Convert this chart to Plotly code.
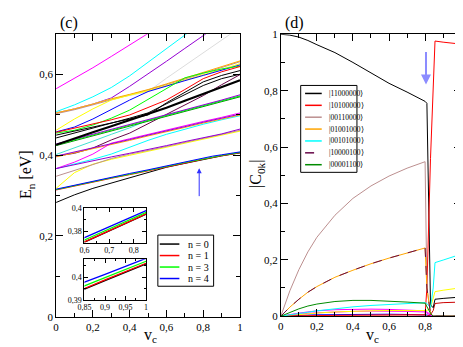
import plotly.graph_objects as go

# ---------------- data: left panel (energy levels E_n vs v_c) ----------------
V = [0, 0.1, 0.2, 0.3, 0.4, 0.5, 0.6, 0.7, 0.8, 0.9, 1.0]
V_N = [0, 0.1, 0.2, 0.3, 0.4, 0.5, 0.6, 0.7, 0.8, 0.85, 0.9, 0.95, 1.0]

E_n0 = [0.283, 0.302, 0.318, 0.331, 0.343, 0.356, 0.3703, 0.3800, 0.3898, 0.3947, 0.3985, 0.4022, 0.4059]
E_n1 = [0.314, 0.324, 0.334, 0.343, 0.352, 0.361, 0.3706, 0.3803, 0.3902, 0.3950, 0.3988, 0.4025, 0.4062]
E_n3 = [0.315, 0.325, 0.335, 0.344, 0.353, 0.362, 0.3722, 0.3820, 0.3918, 0.3962, 0.3998, 0.4034, 0.4071]
E_n4 = [0.316, 0.326, 0.336, 0.346, 0.355, 0.364, 0.3742, 0.3838, 0.3934, 0.3978, 0.4013, 0.4048, 0.4084]

E_magenta_top = [0.565, 0.590, 0.617, 0.645, 0.673, 0.702, 0.732, 0.760, 0.790, 0.820, 0.850]
E_cyan_top = [0.508, 0.525, 0.545, 0.568, 0.597, 0.630, 0.663, 0.698, 0.733, 0.770, 0.800]
E_violet_top = [0.505, 0.515, 0.527, 0.542, 0.571, 0.601, 0.633, 0.665, 0.697, 0.730, 0.760]
E_grey = [0.505, 0.515, 0.527, 0.540, 0.548, 0.558, 0.591, 0.623, 0.654, 0.686, 0.717]
E_brown_b = [0.503, 0.513, 0.525, 0.538, 0.550, 0.562, 0.575, 0.589, 0.603, 0.617, 0.632]
E_orange_b = [0.505, 0.515, 0.527, 0.540, 0.551, 0.563, 0.577, 0.591, 0.605, 0.620, 0.634]
E_yellow_up = [0.462, 0.490, 0.515, 0.537, 0.549, 0.560, 0.573, 0.586, 0.600, 0.613, 0.627]
E_blue_up = [0.458, 0.470, 0.490, 0.514, 0.537, 0.558, 0.572, 0.585, 0.598, 0.611, 0.624]
E_green_up = [0.455, 0.462, 0.475, 0.492, 0.512, 0.538, 0.566, 0.592, 0.604, 0.614, 0.621]
E_red_up = [0.457, 0.467, 0.477, 0.488, 0.500, 0.518, 0.537, 0.563, 0.590, 0.607, 0.620]
E_black_thick = [0.426, 0.442, 0.457, 0.472, 0.487, 0.502, 0.518, 0.535, 0.552, 0.569, 0.586]
E_black_thin1 = [0.443, 0.455, 0.467, 0.480, 0.492, 0.505, 0.527, 0.551, 0.573, 0.590, 0.601]
E_black_thin2 = [0.450, 0.460, 0.470, 0.480, 0.490, 0.500, 0.530, 0.556, 0.582, 0.598, 0.610]
E_maroon = [0.398, 0.405, 0.418, 0.438, 0.455, 0.478, 0.500, 0.523, 0.548, 0.575, 0.600]
E_turq = [0.402, 0.418, 0.435, 0.452, 0.468, 0.487, 0.499, 0.511, 0.523, 0.535, 0.547]
E_green_b3 = [0.426, 0.438, 0.450, 0.462, 0.474, 0.487, 0.499, 0.511, 0.523, 0.535, 0.547]
E_violet_b3 = [0.428, 0.440, 0.452, 0.464, 0.476, 0.489, 0.501, 0.513, 0.525, 0.537, 0.550]
E_green4_b3 = [0.424, 0.436, 0.448, 0.460, 0.472, 0.485, 0.497, 0.509, 0.521, 0.533, 0.545]
E_violet_b4 = [0.398, 0.408, 0.418, 0.428, 0.439, 0.450, 0.460, 0.471, 0.482, 0.492, 0.502]
E_orange_b4 = [0.396, 0.406, 0.416, 0.426, 0.437, 0.448, 0.458, 0.469, 0.480, 0.490, 0.500]
E_magenta_b4 = [0.367, 0.383, 0.403, 0.430, 0.441, 0.452, 0.462, 0.473, 0.484, 0.494, 0.505]
E_cyan_b4 = [0.367, 0.378, 0.390, 0.403, 0.420, 0.437, 0.452, 0.465, 0.477, 0.488, 0.498]
E_violet_b5 = [0.367, 0.377, 0.387, 0.396, 0.405, 0.414, 0.424, 0.434, 0.444, 0.453, 0.465]
E_yellow_low = [0.318, 0.357, 0.378, 0.390, 0.400, 0.410, 0.420, 0.430, 0.440, 0.450, 0.460]
E_brown_b5 = [0.348, 0.362, 0.377, 0.392, 0.403, 0.412, 0.422, 0.432, 0.442, 0.452, 0.462]

# ---------------- data: right panel |C_0k| vs v_c ----------------
XR = [0, 0.05, 0.1, 0.15, 0.2, 0.3, 0.4, 0.5, 0.6, 0.7, 0.8, 0.81, 0.83, 0.845, 0.855, 0.9, 1.0]
C_11000000 = [1.0, 0.997, 0.99, 0.978, 0.963, 0.935, 0.9, 0.862, 0.826, 0.795, 0.762, 0.755, 0.04, 0.03, 0.06, 0.063, 0.068]
C_10100000 = [0, 0, 0.001, 0.001, 0.002, 0.003, 0.004, 0.005, 0.005, 0.005, 0.005, 0.1, 0.56, 0.8, 0.976, 0.972, 0.965]
C_00110000 = [0, 0.09, 0.165, 0.228, 0.28, 0.358, 0.418, 0.462, 0.497, 0.525, 0.548, 0.1, 0.01, 0, 0, 0, 0]
C_01001000 = [0, 0.032, 0.06, 0.085, 0.105, 0.138, 0.163, 0.186, 0.206, 0.225, 0.242, 0.1, 0.01, 0, 0, 0, 0]
C_00101000 = [0, 0.004, 0.009, 0.014, 0.019, 0.027, 0.033, 0.038, 0.042, 0.045, 0.048, 0.045, 0.03, 0.1, 0.19, 0.199, 0.22]
C_10000100 = [0, 0.032, 0.06, 0.085, 0.105, 0.138, 0.163, 0.186, 0.206, 0.225, 0.242, 0.1, 0.01, 0, 0, 0, 0]
C_00001100 = [0, 0.013, 0.026, 0.036, 0.043, 0.052, 0.056, 0.056, 0.054, 0.05, 0.046, 0.035, 0.01, 0, 0, 0, 0]
C_magenta_a = [0, 0.006, 0.011, 0.015, 0.019, 0.023, 0.025, 0.025, 0.024, 0.022, 0.019, 0.015, 0.005, 0, 0, 0, 0]
C_magenta_b = [0, 0.004, 0.007, 0.01, 0.012, 0.015, 0.017, 0.018, 0.018, 0.017, 0.015, 0.01, 0.003, 0, 0, 0, 0]
C_yellow = [0, 0.003, 0.006, 0.009, 0.011, 0.015, 0.018, 0.019, 0.02, 0.02, 0.02, 0.02, 0.03, 0.06, 0.087, 0.092, 0.101]
C_darkred = [0, 0, 0, 0, 0, 0, 0, 0, 0, 0, 0, 0, 0.005, 0.02, 0.045, 0.048, 0.05]
C_blue = [0, 0.002, 0.003, 0.004, 0.005, 0.006, 0.007, 0.007, 0.007, 0.006, 0.005, 0.004, 0.002, 0, 0, 0, 0]

LEFT_LEGEND = ["n = 0", "n = 1", "n = 3", "n = 4"]
RIGHT_LEGEND = ["|11000000⟩", "|10100000⟩", "|00110000⟩", "|01001000⟩",
                "|00101000⟩", "|10000100⟩", "|00001100⟩"]

# grace palette
BLACK = "#000000"; RED = "#ff0000"; GREEN = "#00ff00"; BLUE = "#0000ff"
YELLOW = "#ffff00"; BROWN = "#bc8f8f"; GREY = "#dcdcdc"; VIOLET = "#9400d3"
CYAN = "#00ffff"; MAGENTA = "#ff00ff"; ORANGE = "#ffa500"; MAROON = "#670748"
TURQ = "#40e0d0"; GREEN4 = "#008b00"

fig = go.Figure()


def add(xs, ys, color, width=1.0, xa="x", ya="y", dash=None):
    fig.add_trace(go.Scatter(x=xs, y=ys, mode="lines", xaxis=xa, yaxis=ya,
                             line=dict(color=color, width=width, dash=dash),
                             hoverinfo="skip", showlegend=False))


# left panel
left_lines = [
    (E_magenta_top, MAGENTA), (E_cyan_top, CYAN), (E_violet_top, VIOLET), (E_grey, GREY),
    (E_brown_b, BROWN), (E_orange_b, ORANGE), (E_yellow_up, YELLOW), (E_blue_up, BLUE),
    (E_green_up, GREEN), (E_black_thin1, BLACK), (E_black_thin2, BLACK), (E_red_up, RED),
    (E_maroon, MAROON), (E_turq, TURQ), (E_green4_b3, GREEN4), (E_green_b3, GREEN),
    (E_violet_b3, VIOLET), (E_cyan_b4, CYAN), (E_orange_b4, ORANGE), (E_magenta_b4, MAGENTA),
    (E_violet_b4, VIOLET), (E_yellow_low, YELLOW), (E_brown_b5, BROWN), (E_violet_b5, VIOLET),
]
for ys, c in left_lines:
    add(V, ys, c)
add(V, E_black_thick, BLACK, width=2.2)
for ys, c in [(E_n0, BLACK), (E_n1, RED), (E_n3, GREEN), (E_n4, BLUE)]:
    add(V_N, ys, c)
# insets
for xa, ya in [("x3", "y3"), ("x4", "y4")]:
    for ys, c in [(E_n0, BLACK), (E_n1, RED), (E_n3, GREEN), (E_n4, BLUE)]:
        add(V_N, ys, c, width=1.3, xa=xa, ya=ya)

# right panel
for ys, c in [(C_blue, BLUE), (C_magenta_b, MAGENTA), (C_magenta_a, MAGENTA), (C_yellow, YELLOW),
              (C_darkred, "#cc0000")]:
    add(XR, ys, c, xa="x2", ya="y2")
right_series = [(C_11000000, BLACK, None), (C_10100000, RED, None), (C_00110000, BROWN, None),
                (C_01001000, ORANGE, None), (C_00101000, CYAN, None), (C_10000100, MAROON, "dash"),
                (C_00001100, GREEN4, None)]
for ys, c, d in right_series:
    add(XR, ys, c, xa="x2", ya="y2", dash=d)

W, H = 463, 347


def PX(p):
    return p / W


def PY(p):
    return 1 - p / H


FONT = "Liberation Serif"


def axis(dom, rng, dtick, minor_dtick, anchor, size=11, ticklen=7, mlen=4, tickvals=None, ticktext=None):
    d = dict(domain=dom, range=rng, anchor=anchor, showline=True, linecolor="black", linewidth=1,
             mirror="allticks", ticks="inside", ticklen=ticklen, tickwidth=1, tickcolor="black",
             showgrid=False, zeroline=False, tickfont=dict(size=size, family=FONT, color="black"),
             minor=dict(ticks="inside", dtick=minor_dtick, ticklen=mlen, tickcolor="black", showgrid=False))
    if tickvals is not None:
        d.update(tickmode="array", tickvals=tickvals, ticktext=ticktext)
    else:
        d.update(tick0=0, dtick=dtick)
    return d


fig.update_layout(
    width=W, height=H, margin=dict(l=0, r=0, t=0, b=0),
    paper_bgcolor="white", plot_bgcolor="rgba(0,0,0,0)", showlegend=False,
    separators=", ", font=dict(family=FONT, color="black"),
    xaxis=axis([PX(42), PX(230)], [0, 1], 0.2, 0.1, "y"),
    yaxis=axis([PY(313.5), PY(21)], [0, 0.7], 0.2, 0.1, "x"),
    xaxis2=axis([PX(271.7), PX(456)], [0, 1], 0.2, 0.1, "y2"),
    yaxis2=axis([PY(313), PY(21)], [0, 1], 0.2, 0.1, "x2"),
    xaxis3=axis([PX(71), PX(134)], [0.6, 0.85], None, 0.05, "y3", size=8, ticklen=4, mlen=2,
                tickvals=[0.6, 0.7, 0.8], ticktext=["0,6", "0,7", "0,8"]),
    yaxis3=axis([PY(236.7), PY(201)], [0.37, 0.40], None, 0.01, "x3", size=8, ticklen=4, mlen=2,
                tickvals=[0.38, 0.40], ticktext=["0,38", "0,4"]),
    xaxis4=axis([PX(71), PX(134)], [0.85, 1.0], None, 0.025, "y4", size=8, ticklen=4, mlen=2,
                tickvals=[0.85, 0.9, 0.95, 1.0], ticktext=["0,85", "0,9", "0,95", "1"]),
    yaxis4=axis([PY(296), PY(254)], [0.39, 0.408], None, 0.005, "x4", size=8, ticklen=4, mlen=2,
                tickvals=[0.39, 0.40], ticktext=["0,39", "0,4"]),
)

shapes = []
annotations = []


def text(x, y, s, size, angle=0, xanchor="center"):
    annotations.append(dict(x=x, y=y, xref="paper", yref="paper", text=s, showarrow=False,
                            font=dict(size=size, family=FONT, color="black"), textangle=angle,
                            xanchor=xanchor, yanchor="middle"))


text(PX(55), PY(9), "(c)", 16)
text(PX(286), PY(9), "(d)", 16)
text(PX(12), PY(166), "E<sub>n</sub> [eV]", 16, angle=-90)
text(PX(138), PY(333), "v<sub>c</sub>", 16)
text(PX(247), PY(166), "|C<sub>0k</sub>|", 16, angle=-90)
text(PX(365), PY(333), "v<sub>c</sub>", 16)

# left legend
shapes.append(dict(type="rect", xref="paper", yref="paper", x0=PX(146), x1=PX(203), y0=PY(282), y1=PY(229),
                   line=dict(color="black", width=1), fillcolor="white", layer="above"))
for i, (lab, c) in enumerate(zip(LEFT_LEGEND, [BLACK, RED, GREEN, BLUE])):
    yy = 238.3 + i * 11.9
    shapes.append(dict(type="line", xref="paper", yref="paper", x0=PX(148), x1=PX(168), y0=PY(yy), y1=PY(yy),
                       line=dict(color=c, width=1.5), layer="above"))
    text(PX(175), PY(yy), lab, 10, xanchor="left")

# right legend
shapes.append(dict(type="rect", xref="paper", yref="paper", x0=PX(292), x1=PX(349.5), y0=PY(164), y1=PY(74),
                   line=dict(color="black", width=1), fillcolor="white", layer="above"))
for i, (lab, (ys, c, d)) in enumerate(zip(RIGHT_LEGEND, right_series)):
    yy = 82.3 + i * 12.3
    shapes.append(dict(type="line", xref="paper", yref="paper", x0=PX(296.5), x1=PX(313.5), y0=PY(yy), y1=PY(yy),
                       line=dict(color=c, width=1.5, dash=d), layer="above"))
    text(PX(319), PY(yy), lab, 7.5, xanchor="left")

# arrows
annotations.append(dict(x=0.778, y=0.368, ax=0.778, ay=0.295, xref="x", yref="y", axref="x", ayref="y",
                        text="", showarrow=True, arrowhead=2, arrowsize=1, arrowwidth=1, arrowcolor="#3030ff"))
annotations.append(dict(x=0.805, y=0.822, ax=0.805, ay=0.942, xref="x2", yref="y2", axref="x2", ayref="y2",
                        text="", showarrow=True, arrowhead=2, arrowsize=1, arrowwidth=2, arrowcolor="#8c8cff"))

fig.update_layout(shapes=shapes, annotations=annotations)
fig.write_html("out.html")
